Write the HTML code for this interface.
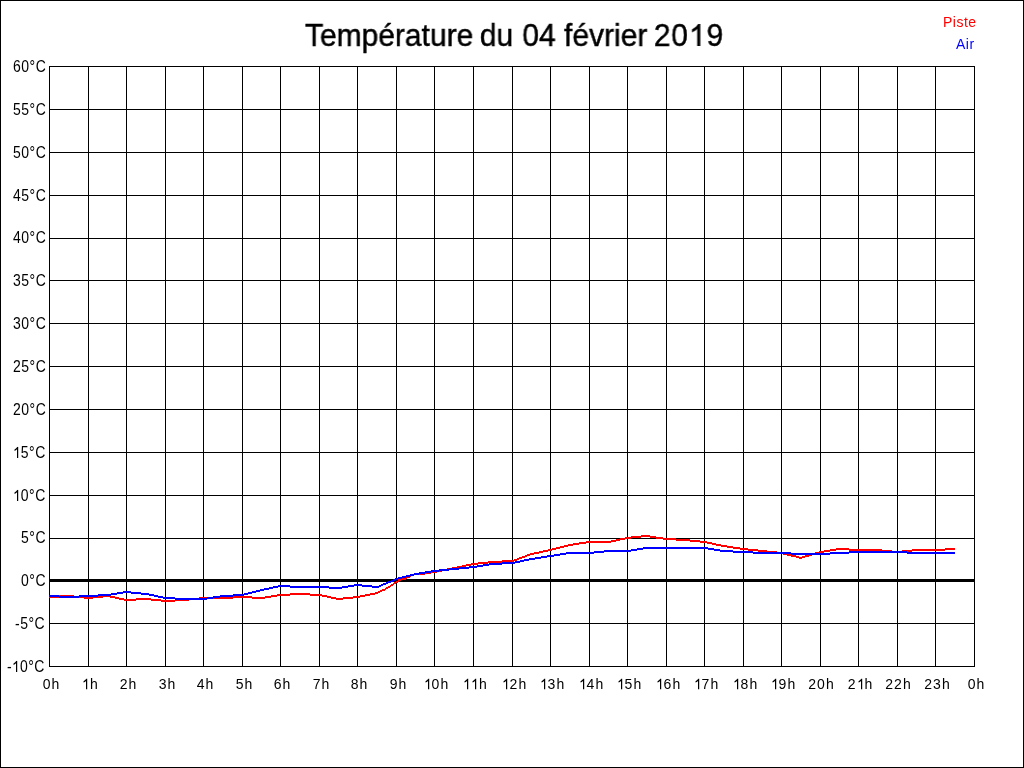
<!DOCTYPE html>
<html><head><meta charset="utf-8"><title>Température du 04 février 2019</title>
<style>
html,body{margin:0;padding:0;background:#fff;}
body{width:1024px;height:768px;position:relative;overflow:hidden;font-family:"Liberation Sans",sans-serif;color:#000;}
svg.chart{position:absolute;left:0;top:0;}
.title{position:absolute;left:305px;top:18px;font-size:31px;line-height:36px;white-space:nowrap;transform-origin:0 0;transform:scale(0.967,1);will-change:transform;-webkit-text-stroke:0.45px #000;}
.yl{position:absolute;right:978px;will-change:transform;transform:scale(1,1.12);transform-origin:50% 77%;font-size:14px;letter-spacing:0.5px;line-height:18px;white-space:nowrap;text-align:right;}
.xl{position:absolute;top:675px;will-change:transform;width:60px;text-align:center;font-size:14px;letter-spacing:1px;text-indent:1px;transform:scale(1,1.1);transform-origin:50% 50%;line-height:18px;white-space:nowrap;}
.o1{position:relative;color:transparent;-webkit-text-stroke-color:transparent;letter-spacing:0;}
.one{position:absolute;left:0;bottom:0.212em;width:0.556em;height:0.716em;fill:#000;}
.title .one{stroke:#000;stroke-width:30;}
.lg{position:absolute;right:47px;will-change:transform;font-size:14px;letter-spacing:0.5px;transform:scale(1,1.06);transform-origin:50% 25%;line-height:18px;white-space:nowrap;text-align:right;}
</style></head><body>
<svg class="chart" width="1024" height="768" viewBox="0 0 1024 768" shape-rendering="crispEdges">
<rect x="0.5" y="0.5" width="1023" height="767" fill="none" stroke="#000" stroke-width="1"/>
<path d="M49.5 66V667 M88.5 66V667 M126.5 66V667 M165.5 66V667 M203.5 66V667 M242.5 66V667 M280.5 66V667 M319.5 66V667 M357.5 66V667 M396.5 66V667 M434.5 66V667 M473.5 66V667 M512.5 66V667 M550.5 66V667 M589.5 66V667 M627.5 66V667 M666.5 66V667 M704.5 66V667 M743.5 66V667 M781.5 66V667 M820.5 66V667 M858.5 66V667 M897.5 66V667 M935.5 66V667 M974.5 66V667 M49 66.5H975 M49 109.5H975 M49 152.5H975 M49 195.5H975 M49 238.5H975 M49 280.5H975 M49 323.5H975 M49 366.5H975 M49 409.5H975 M49 452.5H975 M49 495.5H975 M49 538.5H975 M49 623.5H975 M49 666.5H975" stroke="#000" stroke-width="1" fill="none"/>
<path d="M49 580.5H975" stroke="#000" stroke-width="3" fill="none"/>
<path d="M49 596H59V598H49ZM59 595H74V597H59ZM74 596H84V598H74ZM84 597H93V599H84ZM93 596H103V598H93ZM103 595H110V597H103ZM110 596H115V598H110ZM115 597H119V599H115ZM119 598H124V600H119ZM124 599H136V601H124ZM136 598H151V600H136ZM151 599H161V601H151ZM161 600H175V602H161ZM175 599H189V601H175ZM189 598H199V600H189ZM199 597H233V599H199ZM233 596H252V598H233ZM252 597H265V599H252ZM265 596H271V598H265ZM271 595H277V597H271ZM277 594H290V596H277ZM290 593H310V595H290ZM310 594H322V596H310ZM322 595H327V597H322ZM327 596H331V598H327ZM331 597H336V599H331ZM336 598H343V600H336ZM343 597H353V599H343ZM353 596H360V598H353ZM360 595H365V597H360ZM365 594H370V596H365ZM370 593H375V595H370ZM375 592H378V594H375ZM378 591H380V593H378ZM380 590H382V592H380ZM382 589H385V591H382ZM385 588H386V590H385ZM386 587H388V589H386ZM388 586H390V588H388ZM390 585H391V587H390ZM391 584H393V586H391ZM393 583H394V585H393ZM394 582H396V584H394ZM396 581H398V583H396ZM398 579h1V582h-1ZM398 579H401V581H398ZM401 578H406V580H401ZM406 576h1V579h-1ZM406 576H410V578H406ZM410 574h1V577h-1ZM410 574H414V576H410ZM414 573H425V575H414ZM425 572H431V574H425ZM431 571H437V573H431ZM437 570H442V572H437ZM442 569H447V571H442ZM447 568H452V570H447ZM452 567H457V569H452ZM457 566H462V568H457ZM462 565H466V567H462ZM466 564H471V566H466ZM471 563H478V565H471ZM478 562H488V564H478ZM488 561H502V563H488ZM502 560H514V562H502ZM514 559H517V561H514ZM517 558H519V560H517ZM519 557H522V559H519ZM522 556H525V558H522ZM525 555H527V557H525ZM527 554H530V556H527ZM530 553H534V555H530ZM534 552H539V554H534ZM539 551H543V553H539ZM543 550H548V552H543ZM548 549H552V551H548ZM552 548H556V550H552ZM556 547H560V549H556ZM560 546H564V548H560ZM564 545H568V547H564ZM568 544H573V546H568ZM573 543H579V545H573ZM579 542H586V544H579ZM586 541H611V543H586ZM611 540H616V542H611ZM616 539H620V541H616ZM620 538H625V540H620ZM625 537H631V539H625ZM631 536H641V538H631ZM641 535H650V537H641ZM650 536H656V538H650ZM656 537H663V539H656ZM663 538H676V540H663ZM676 539H690V541H676ZM690 540H700V542H690ZM700 541H707V543H700ZM707 542H712V544H707ZM712 543H716V545H712ZM716 544H721V546H716ZM721 545H727V547H721ZM727 546H733V548H727ZM733 547H740V549H733ZM740 548H748V550H740ZM748 549H758V551H748ZM758 550H767V552H758ZM767 551H777V553H767ZM777 552H783V554H777ZM783 553H787V555H783ZM787 554H791V556H787ZM791 555H796V557H791ZM796 556H799V558H796ZM799 557H802V559H799ZM802 556H805V558H802ZM805 555H809V557H805ZM809 554H812V556H809ZM812 553H815V555H812ZM815 552H819V554H815ZM819 551H824V553H819ZM824 550H830V552H824ZM830 549H836V551H830ZM836 548H849V550H836ZM849 549H882V551H849ZM882 550H892V552H882ZM892 551H902V553H892ZM902 550H912V552H902ZM912 549H945V551H912ZM945 548H955V550H945Z" fill="#f00"/>
<path d="M49 595H59V597H49ZM59 596H79V598H59ZM79 595H98V597H79ZM98 594H111V596H98ZM111 593H117V595H111ZM117 592H123V594H117ZM123 591H131V593H123ZM131 592H141V594H131ZM141 593H149V595H141ZM149 594H154V596H149ZM154 595H158V597H154ZM158 596H163V598H158ZM163 597H175V599H163ZM175 598H207V600H175ZM207 597H213V599H207ZM213 596H220V598H213ZM220 595H233V597H220ZM233 594H244V596H233ZM244 593H248V595H244ZM248 592H252V594H248ZM252 591H256V593H252ZM256 590H260V592H256ZM260 589H264V591H260ZM264 588H269V590H264ZM269 587H273V589H269ZM273 586H278V588H273ZM278 585H290V587H278ZM290 586H293V588H290ZM293 586H329V588H293ZM329 587H342V589H329ZM342 586H348V588H342ZM348 585H354V587H348ZM354 584H362V586H354ZM362 585H372V587H362ZM372 586H379V588H372ZM379 585H381V587H379ZM381 584H383V586H381ZM383 583H386V585H383ZM386 582H388V584H386ZM388 581H391V583H388ZM391 580H393V582H391ZM393 579H395V581H393ZM395 578H398V580H395ZM398 577H402V579H398ZM402 576H406V578H402ZM406 575H410V577H406ZM410 574H414V576H410ZM414 573H419V575H414ZM419 572H425V574H419ZM425 571H430V573H425ZM430 571H431V573H430ZM431 570H439V572H431ZM439 569H449V571H439ZM449 568H459V570H449ZM459 567H469V569H459ZM469 566H477V568H469ZM477 565H483V567H477ZM483 564H489V566H483ZM489 563H502V565H489ZM502 562H515V564H502ZM515 561H520V563H515ZM520 560H524V562H520ZM524 559H529V561H524ZM529 558H535V560H529ZM535 557H541V559H535ZM541 556H547V558H541ZM547 555H554V557H547ZM554 554H560V556H554ZM560 553H566V555H560ZM566 552H594V554H566ZM594 551H604V553H594ZM604 550H631V552H604ZM631 549H637V551H631ZM637 548H643V550H637ZM643 547H708V549H643ZM708 548H714V550H708ZM714 549H720V551H714ZM720 550H733V552H720ZM733 551H753V553H733ZM753 552H791V554H753ZM791 553H830V555H791ZM830 552H849V554H830ZM849 551H907V553H849ZM907 552H955V554H907Z" fill="#00f"/>
</svg>
<div class="title">Température<span style="letter-spacing:-2px"> </span>du<span style="letter-spacing:1px"> </span>04 février<span style="letter-spacing:-2px"> </span><span style="letter-spacing:1px">20</span><span class="o1">1<svg class="one" viewBox="0 0 1139 1466"><path d="M763 1466H583V319Q430 456 223 536V362Q500 236 648 0H763Z"/></svg></span><span style="margin-left:1px">9</span></div>
<div class="yl" style="top:58px;">60°C</div><div class="yl" style="top:101px;">55°C</div><div class="yl" style="top:144px;">50°C</div><div class="yl" style="top:187px;">45°C</div><div class="yl" style="top:229px;">40°C</div><div class="yl" style="top:272px;">35°C</div><div class="yl" style="top:315px;">30°C</div><div class="yl" style="top:358px;">25°C</div><div class="yl" style="top:401px;">20°C</div><div class="yl" style="top:444px;"><span class="o1">1<svg class="one" viewBox="0 0 1139 1466"><path d="M763 1466H583V319Q430 456 223 536V362Q500 236 648 0H763Z"/></svg></span>5°C</div><div class="yl" style="top:487px;"><span class="o1">1<svg class="one" viewBox="0 0 1139 1466"><path d="M763 1466H583V319Q430 456 223 536V362Q500 236 648 0H763Z"/></svg></span>0°C</div><div class="yl" style="top:529px;">5°C</div><div class="yl" style="top:572px;">0°C</div><div class="yl" style="top:615px; margin-right:1px;">-5°C</div><div class="yl" style="top:658px; margin-right:1px;">-<span class="o1">1<svg class="one" viewBox="0 0 1139 1466"><path d="M763 1466H583V319Q430 456 223 536V362Q500 236 648 0H763Z"/></svg></span>0°C</div>
<div class="xl" style="left:20.5px">0h</div><div class="xl" style="left:59.5px"><span class="o1">1<svg class="one" viewBox="0 0 1139 1466"><path d="M763 1466H583V319Q430 456 223 536V362Q500 236 648 0H763Z"/></svg></span>h</div><div class="xl" style="left:97.5px">2h</div><div class="xl" style="left:136.5px">3h</div><div class="xl" style="left:174.5px">4h</div><div class="xl" style="left:213.5px">5h</div><div class="xl" style="left:251.5px">6h</div><div class="xl" style="left:290.5px">7h</div><div class="xl" style="left:328.5px">8h</div><div class="xl" style="left:367.5px">9h</div><div class="xl" style="left:405.5px"><span class="o1">1<svg class="one" viewBox="0 0 1139 1466"><path d="M763 1466H583V319Q430 456 223 536V362Q500 236 648 0H763Z"/></svg></span>0h</div><div class="xl" style="left:444.5px"><span class="o1">1<svg class="one" viewBox="0 0 1139 1466"><path d="M763 1466H583V319Q430 456 223 536V362Q500 236 648 0H763Z"/></svg></span><span class="o1">1<svg class="one" viewBox="0 0 1139 1466"><path d="M763 1466H583V319Q430 456 223 536V362Q500 236 648 0H763Z"/></svg></span>h</div><div class="xl" style="left:483.5px"><span class="o1">1<svg class="one" viewBox="0 0 1139 1466"><path d="M763 1466H583V319Q430 456 223 536V362Q500 236 648 0H763Z"/></svg></span>2h</div><div class="xl" style="left:521.5px"><span class="o1">1<svg class="one" viewBox="0 0 1139 1466"><path d="M763 1466H583V319Q430 456 223 536V362Q500 236 648 0H763Z"/></svg></span>3h</div><div class="xl" style="left:560.5px"><span class="o1">1<svg class="one" viewBox="0 0 1139 1466"><path d="M763 1466H583V319Q430 456 223 536V362Q500 236 648 0H763Z"/></svg></span>4h</div><div class="xl" style="left:598.5px"><span class="o1">1<svg class="one" viewBox="0 0 1139 1466"><path d="M763 1466H583V319Q430 456 223 536V362Q500 236 648 0H763Z"/></svg></span>5h</div><div class="xl" style="left:637.5px"><span class="o1">1<svg class="one" viewBox="0 0 1139 1466"><path d="M763 1466H583V319Q430 456 223 536V362Q500 236 648 0H763Z"/></svg></span>6h</div><div class="xl" style="left:675.5px"><span class="o1">1<svg class="one" viewBox="0 0 1139 1466"><path d="M763 1466H583V319Q430 456 223 536V362Q500 236 648 0H763Z"/></svg></span>7h</div><div class="xl" style="left:714.5px"><span class="o1">1<svg class="one" viewBox="0 0 1139 1466"><path d="M763 1466H583V319Q430 456 223 536V362Q500 236 648 0H763Z"/></svg></span>8h</div><div class="xl" style="left:752.5px"><span class="o1">1<svg class="one" viewBox="0 0 1139 1466"><path d="M763 1466H583V319Q430 456 223 536V362Q500 236 648 0H763Z"/></svg></span>9h</div><div class="xl" style="left:790.5px">20h</div><div class="xl" style="left:829.5px">2<span class="o1">1<svg class="one" viewBox="0 0 1139 1466"><path d="M763 1466H583V319Q430 456 223 536V362Q500 236 648 0H763Z"/></svg></span>h</div><div class="xl" style="left:867.5px">22h</div><div class="xl" style="left:906.5px">23h</div><div class="xl" style="left:945.5px">0h</div>
<div class="lg" style="top:12px;color:#f00">Piste</div>
<div class="lg" style="top:34px;right:49px;color:#00f">Air</div>
</body></html>
